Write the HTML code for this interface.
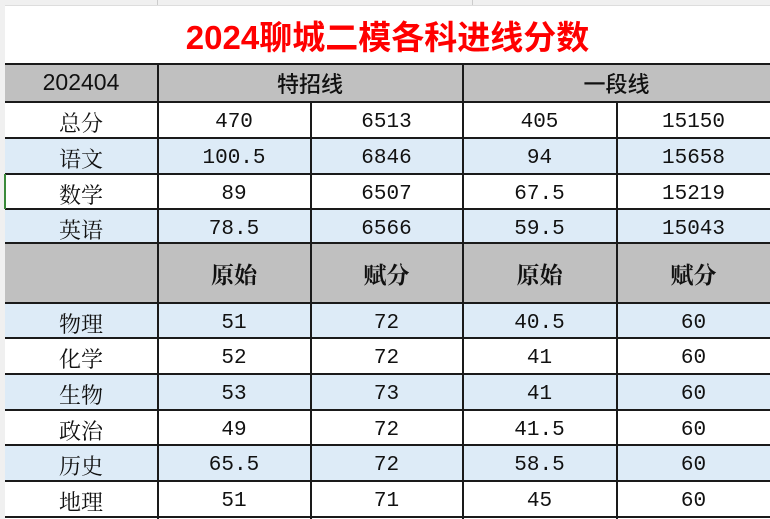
<!DOCTYPE html>
<html><head><meta charset="utf-8"><style>
body{margin:0;width:770px;height:519px;overflow:hidden;background:#fff;position:relative;font-family:"Liberation Mono","Noto Serif CJK SC",serif;}
.c{position:absolute;display:flex;align-items:center;justify-content:center;font-size:21px;color:#111;box-sizing:border-box;}
.r{padding-top:5px;}
.h{position:absolute;background:#1a1a1a;height:2px;}
.v{position:absolute;background:#1a1a1a;width:1.5px;}
.b{font-family:"Liberation Sans","Noto Sans CJK SC",sans-serif;font-weight:bold;}
.z{font-family:"Noto Serif CJK SC",serif;font-size:22px;}
</style></head><body>
<div style="position:absolute;left:0;top:0;width:770px;height:5px;background:#f0f0f0;border-bottom:1px solid #ddd"></div>
<div style="position:absolute;left:157px;top:0;width:1px;height:5px;background:#ccc"></div>
<div style="position:absolute;left:472px;top:0;width:1px;height:5px;background:#ccc"></div>
<div style="position:absolute;left:0;top:5px;width:5px;height:514px;background:#f0f0f0"></div>
<div class="c b" style="left:5px;top:6px;width:765px;height:58px;color:#f00;font-size:33px;">2024聊城二模各科进线分数</div>
<div style="position:absolute;left:5px;top:64px;width:765px;height:38px;background:#c0c0c0"></div>
<div style="position:absolute;left:5px;top:138px;width:765px;height:36px;background:#ddebf7"></div>
<div style="position:absolute;left:5px;top:209px;width:765px;height:34px;background:#ddebf7"></div>
<div style="position:absolute;left:5px;top:243px;width:765px;height:60px;background:#c0c0c0"></div>
<div style="position:absolute;left:5px;top:303px;width:765px;height:35px;background:#ddebf7"></div>
<div style="position:absolute;left:5px;top:374px;width:765px;height:36px;background:#ddebf7"></div>
<div style="position:absolute;left:5px;top:445px;width:765px;height:36px;background:#ddebf7"></div>
<div class="h" style="left:5px;top:63px;width:765px"></div>
<div class="h" style="left:5px;top:101px;width:765px"></div>
<div class="h" style="left:5px;top:137px;width:765px"></div>
<div class="h" style="left:5px;top:173px;width:765px"></div>
<div class="h" style="left:5px;top:208px;width:765px"></div>
<div class="h" style="left:5px;top:242px;width:765px"></div>
<div class="h" style="left:5px;top:302px;width:765px"></div>
<div class="h" style="left:5px;top:337px;width:765px"></div>
<div class="h" style="left:5px;top:373px;width:765px"></div>
<div class="h" style="left:5px;top:409px;width:765px"></div>
<div class="h" style="left:5px;top:444px;width:765px"></div>
<div class="h" style="left:5px;top:480px;width:765px"></div>
<div class="h" style="left:5px;top:516px;width:765px"></div>
<div class="v" style="left:157px;top:63px;height:456px"></div>
<div class="v" style="left:462px;top:63px;height:456px"></div>
<div class="v" style="left:310px;top:101px;height:418px"></div>
<div class="v" style="left:616px;top:101px;height:418px"></div>
<div style="position:absolute;left:4px;top:174px;width:2px;height:35px;background:#3a8a3a"></div>
<div class="c" style="left:5px;top:64px;width:152px;height:37px;font-family:'Liberation Sans',sans-serif;font-size:23px">202404</div>
<div class="c" style="left:158px;top:64px;width:304px;height:37px;font-family:'Noto Sans CJK SC',sans-serif;font-weight:500;font-size:22px">特招线</div>
<div class="c" style="left:463px;top:64px;width:307px;height:37px;font-family:'Noto Sans CJK SC',sans-serif;font-weight:500;font-size:22px">一段线</div>
<div id="rows"></div>
<script>
var rows=[[102,"总分","470","6513","405","15150"],[138,"语文","100.5","6846","94","15658"],[174,"数学","89","6507","67.5","15219"],[209,"英语","78.5","6566","59.5","15043"],
[303,"物理","51","72","40.5","60"],[338,"化学","52","72","41","60"],[374,"生物","53","73","41","60"],[410,"政治","49","72","41.5","60"],[445,"历史","65.5","72","58.5","60"],[481,"地理","51","71","45","60"]];
var xs=[[5,152],[158,152],[311,151],[463,153],[617,153]],h="";
rows.forEach(function(r){for(var i=0;i<5;i++)h+='<div class="c r'+(i==0?' z':'')+'" style="left:'+xs[i][0]+'px;top:'+r[0]+'px;width:'+xs[i][1]+'px;height:36px">'+r[i+1]+'</div>';});
var hd=["原始","赋分","原始","赋分"];
for(var i=0;i<4;i++)h+='<div class="c" style="left:'+xs[i+1][0]+'px;top:243px;width:'+xs[i+1][1]+'px;height:60px;font-family:\'Noto Serif CJK SC\',serif;font-weight:bold;font-size:23px">'+hd[i]+'</div>';
document.getElementById("rows").innerHTML=h;
</script>
</body></html>
